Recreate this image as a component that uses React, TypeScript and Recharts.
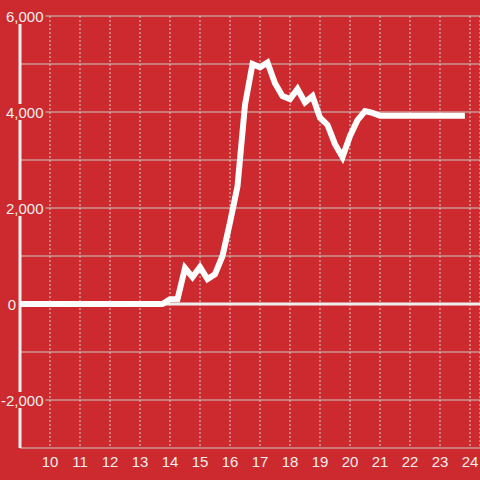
import React from 'react';
import {
  LineChart,
  Line,
  XAxis,
  YAxis,
  CartesianGrid,
  ReferenceLine,
} from 'recharts';

// hour of day (decimal) and value
const times = [
  9, 13.75, 14, 14.25, 14.5, 14.75, 15, 15.25, 15.5, 15.75, 16, 16.25, 16.5,
  16.75, 17, 17.25, 17.5, 17.75, 18, 18.25, 18.5, 18.75, 19, 19.25, 19.5,
  19.75, 20, 20.25, 20.5, 20.75, 21, 23.83,
];
const values = [
  0, 0, 100, 100, 750, 560, 770, 520, 620, 1000, 1700, 2450, 4150, 5000, 4930,
  5030, 4600, 4330, 4270, 4480, 4200, 4330, 3880, 3730, 3330, 3060, 3500,
  3830, 4020, 3980, 3920, 3920,
];
const xTicks = [10, 11, 12, 13, 14, 15, 16, 17, 18, 19, 20, 21, 22, 23, 24];
const yTicks = [-3000, -2000, -1000, 0, 1000, 2000, 3000, 4000, 5000, 6000];
const yLabels = [6000, 4000, 2000, 0, -2000];

const BG = '#cc2a2f';
const TEXT = '#eeeeee';
const GRID = '#cccccc';
const FONT = '"Liberation Sans", Arial, sans-serif';

const data = times.map((t, i) => ({ t, v: values[i] }));

// rough advance widths at 15px
function textWidth(s: string): number {
  let w = 0;
  for (const c of s) {
    if (c === ',') w += 4.2;
    else if (c === '-') w += 5;
    else w += 8.3;
  }
  return w;
}

function YTick(props: any) {
  const { y, payload } = props;
  const value = payload.value as number;
  if (!yLabels.includes(value)) return <g />;
  const label = value.toLocaleString('en-US');
  const w = textWidth(label);
  // the zero label sits left of the axis, the others inside the plot
  const right = value === 0 ? 16 : 43.5;
  return (
    <g>
      <rect x={right - w - 2} y={y - 8} width={w + 4} height={16} fill={BG} />
      <text
        x={right}
        y={y}
        dy={6}
        textAnchor="end"
        fill={TEXT}
        fontSize={15}
        fontFamily={FONT}
      >
        {label}
      </text>
    </g>
  );
}

export default function App() {
  return (
    <div
      style={{
        position: 'fixed',
        top: 0,
        left: 0,
        width: 480,
        height: 480,
        background: BG,
      }}
    >
      <LineChart
        width={480}
        height={480}
        data={data}
        margin={{ top: 16, right: 0, bottom: 2, left: 0 }}
      >
        <CartesianGrid horizontal={true} vertical={false} stroke={GRID} />
        <CartesianGrid
          horizontal={false}
          vertical={true}
          stroke={GRID}
          strokeDasharray="2 2"
        />
        <XAxis
          dataKey="t"
          type="number"
          domain={[9, 24.3333]}
          ticks={xTicks}
          allowDataOverflow
          axisLine={false}
          tickLine={false}
          height={30}
          tick={{ fill: TEXT, fontSize: 15, fontFamily: FONT }}
        />
        <YAxis
          type="number"
          domain={[-3000, 6000]}
          ticks={yTicks}
          width={20}
          axisLine={false}
          tickLine={false}
          tick={YTick}
          interval={0}
        />
        <ReferenceLine
          segment={[
            { x: 9, y: 5833 },
            { x: 9, y: -3000 },
          ]}
          stroke={TEXT}
          strokeWidth={3}
        />
        <ReferenceLine y={0} stroke={TEXT} strokeWidth={3} />
        <Line
          type="linear"
          dataKey="v"
          stroke="#ffffff"
          strokeWidth={6}
          dot={false}
          activeDot={false}
          isAnimationActive={false}
        />
      </LineChart>
    </div>
  );
}
